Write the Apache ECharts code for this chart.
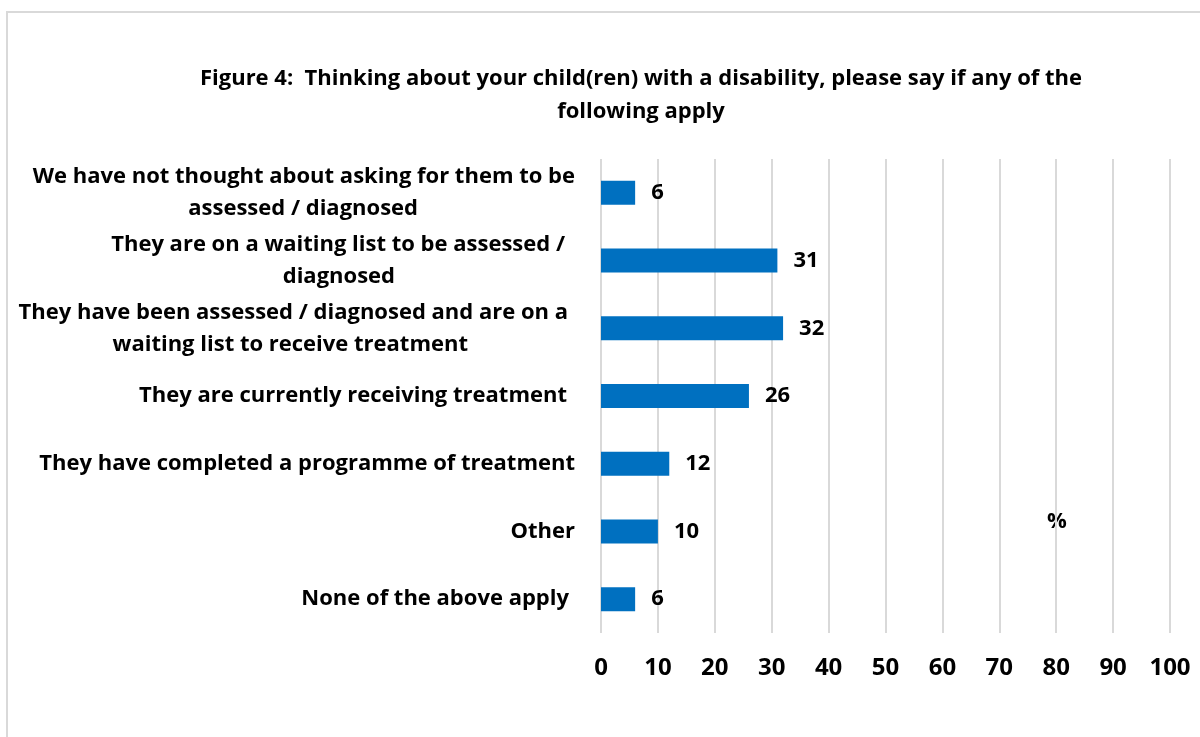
<!DOCTYPE html>
<html>
<head>
<meta charset="utf-8">
<style>
  html, body { margin: 0; padding: 0; background: #ffffff; }
  #chart { width: 1200px; height: 737px; }
</style>
<script src="https://cdn.jsdelivr.net/npm/echarts@6/dist/echarts.min.js"></script>
</head>
<body>
<div id="chart"></div>
<script>
// Survey answers, listed top to bottom; each entry is the label's lines
const categories = [
  ['We have not thought about asking for them to be', 'assessed / diagnosed'],
  ['They are on a waiting list to be assessed /', 'diagnosed'],
  ['They have been assessed / diagnosed and are on a', 'waiting list to receive treatment'],
  ['They are currently receiving treatment'],
  ['They have completed a programme of treatment'],
  ['Other'],
  ['None of the above apply']
];
// Percentage of respondents
const values = [6, 31, 32, 26, 12, 10, 6];
const xTicks = [0, 10, 20, 30, 40, 50, 60, 70, 80, 90, 100];
const titleLines = [
  'Figure 4:  Thinking about your child(ren) with a disability, please say if any of the',
  'following apply'
];
const unitLabel = '%';

// Right-hand inset (px) of each label line, keeping the wrapped lines' layout
const lineInset = [
  [0, 157],
  [10, 180],
  [7, 107],
  [8],
  [0],
  [0],
  [6]
];

const FONT = '"Open Sans", Lato, sans-serif';
const LABEL_SIZE = 22;
const TICK_SIZE = 24;
const VALUE_SIZE = 22;

const rich = {};
const keys = categories.map((lines, i) => {
  return lines.map((line, j) => {
    const k = 'l' + i + '_' + j;
    rich[k] = {
      fontFamily: FONT,
      fontWeight: 'bold',
      fontSize: LABEL_SIZE,
      color: '#000000',
      lineHeight: 32,
      padding: [0, lineInset[i][j] || 0, 0, 0]
    };
    return k;
  });
});

const chart = echarts.init(document.getElementById('chart'), null, { renderer: 'canvas' });

chart.setOption({
  animation: false,
  backgroundColor: '#ffffff',
  grid: { left: 601, right: 30, top: 159, bottom: 104, containLabel: false },
  xAxis: {
    type: 'value',
    min: xTicks[0],
    max: xTicks[xTicks.length - 1],
    interval: xTicks[1] - xTicks[0],
    axisLine: { show: false },
    axisTick: { show: false },
    splitLine: { show: true, lineStyle: { color: '#d9d9d9', width: 2 } },
    axisLabel: {
      margin: 23,
      fontFamily: FONT,
      fontWeight: 'bold',
      fontSize: TICK_SIZE,
      color: '#000000'
    }
  },
  yAxis: {
    type: 'category',
    inverse: true,
    data: categories.map((lines, i) => String(i)),
    axisLine: { show: false },
    axisTick: { show: false },
    splitLine: { show: false },
    axisLabel: {
      margin: 26,
      align: 'right',
      interval: 0,
      rich: rich,
      formatter: (v) => {
        const i = Number(v);
        return categories[i].map((line, j) => '{' + keys[i][j] + '|' + line + '}').join('\n');
      }
    }
  },
  series: [{
    type: 'bar',
    data: values,
    barWidth: 24,
    itemStyle: { color: '#0070c0' },
    label: {
      show: true,
      position: 'right',
      distance: 16,
      fontFamily: FONT,
      fontWeight: 'bold',
      fontSize: VALUE_SIZE,
      color: '#000000'
    }
  }],
  graphic: [
    {
      type: 'rect',
      shape: { x: 7, y: 12, width: 1300, height: 800 },
      style: { fill: null, stroke: '#d9d9d9', lineWidth: 2 },
      silent: true
    },
    {
      type: 'text',
      x: 641,
      y: 95,
      style: {
        text: titleLines.join('\n'),
        fontFamily: FONT,
        fontWeight: 'bold',
        fontSize: LABEL_SIZE,
        lineHeight: 33,
        fill: '#000000',
        align: 'center',
        verticalAlign: 'middle'
      }
    },
    {
      type: 'text',
      x: 1057,
      y: 522,
      style: {
        text: unitLabel,
        fontFamily: FONT,
        fontWeight: 'bold',
        fontSize: VALUE_SIZE,
        fill: '#000000',
        align: 'center',
        verticalAlign: 'middle'
      }
    }
  ]
});
</script>
</body>
</html>
